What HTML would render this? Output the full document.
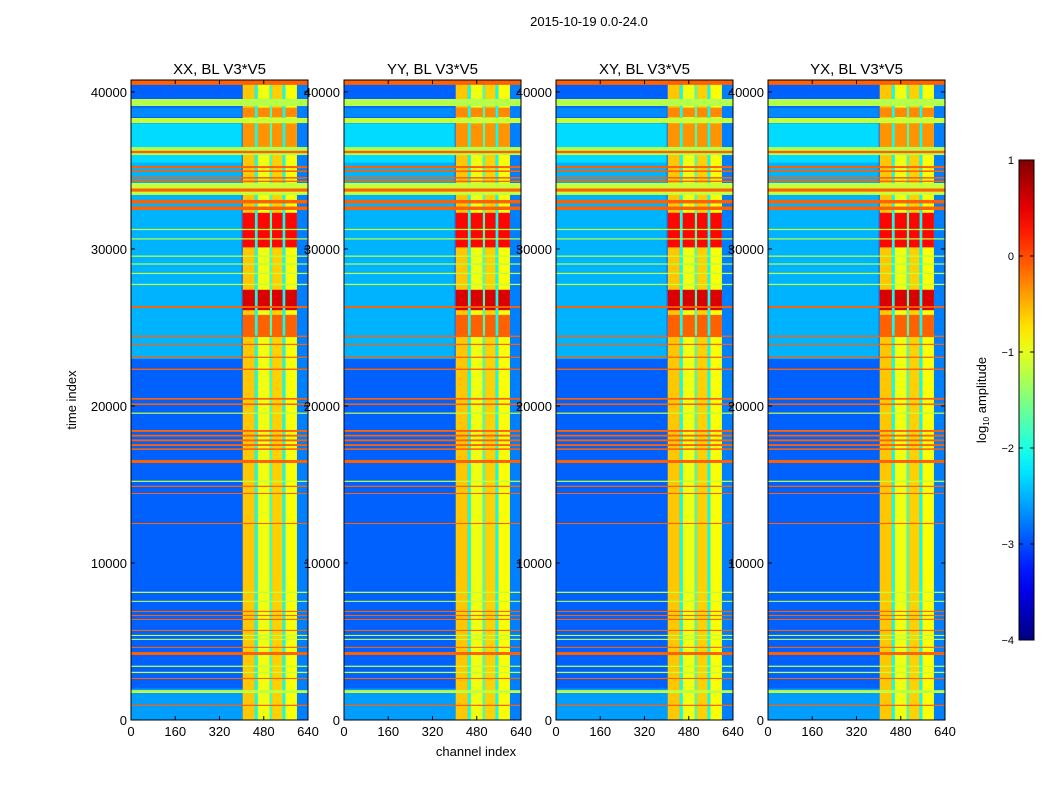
<!DOCTYPE html>
<html><head><meta charset="utf-8">
<style>
html,body{margin:0;padding:0;background:#fff;}
svg{display:block;font-family:"Liberation Sans","DejaVu Sans",sans-serif;}
</style></head>
<body>
<svg id="fig" width="1050" height="800" viewBox="0 0 1050 800" xmlns="http://www.w3.org/2000/svg">
<rect x="0" y="0" width="1050" height="800" fill="#fff"/>
<text x="589" y="26" font-size="13" text-anchor="middle">2015-10-19 0.0-24.0</text>
<text transform="translate(76,400) rotate(-90)" font-size="13" text-anchor="middle">time index</text>
<text x="476" y="756" font-size="13" text-anchor="middle">channel index</text>
<text transform="translate(986,400) rotate(-90)" font-size="13" text-anchor="middle">log<tspan font-size="8" dy="3">10</tspan><tspan dy="-3"> amplitude</tspan></text>
</svg>
<script>
// ---- data ----
const panelTitles = ["XX, BL V3*V5","YY, BL V3*V5","XY, BL V3*V5","YX, BL V3*V5"];
const xTicks = [0,160,320,480,640];
const yTicks = [0,10000,20000,30000,40000];
const cbTicks = [1,0,-1,-2,-3,-4];
const baseValue = -2.9;
// background regions [ch0, ch1, t0, t1, value]
const regions = [
  [0,400,23000,38000,-2.5],
  [0,400,35500,38000,-2.3],
  [0,400,38400,39000,-2.7],
  [0,640,0,2000,-2.6],
  [600,640,0,40760,-2.75]
];
// channel bands [ch0, ch1, value]
const channelBands = [
  [404,448,-0.6],[448,458,-2.1],[458,502,-0.95],[502,510,-1.8],
  [510,548,-0.65],[548,558,-2.1],[558,600,-0.9]
];
// hot blocks in band region [t0, t1, value]
const hotBlocks = [
  [30100,32300,0.35],[26100,27400,0.55],[24400,25800,-0.1],[36500,38000,-0.35],[38400,39000,-0.3]
];
// time bands [t0, t1, value]
const timeBands = [
  [40450,40760,-0.1],[39100,39550,-1.25],[38020,38340,-1.15],[35980,36490,-1.25],[36100,36250,-0.1],
  [34900,35000,-0.1],[35150,35280,-0.1],[34260,34350,-0.1],[34480,34580,-0.1],[33440,34200,-1.15],[33650,33850,-0.1],
  [32480,32700,-0.1],[32900,33120,-0.1],
  [31200,31280,-1.2],[30600,30680,-1.2],[29500,29580,-1.2],[29000,29080,-1.3],[28400,28480,-1.2],
  [27700,27780,-1.2],[26240,26360,-0.1],[24390,24480,-0.1],[23880,23960,-0.1],[23060,23140,-0.1],
  [22290,22380,-0.1],[20400,20510,-0.1],[20060,20160,-0.1],[19500,19580,-1.2],
  [18350,18470,-0.1],[18050,18170,-0.1],[17750,17870,-0.1],[17450,17570,-0.1],[17200,17300,-0.1],
  [16370,16560,-0.1],[15160,15240,-1.2],[14840,14920,-0.1],[14390,14460,-0.1],
  [12480,12550,-0.1],[8090,8170,-1.2],[7520,7590,-1.2],[6880,6950,-0.1],[6620,6690,-0.1],
  [6370,6440,-0.1],[5670,5740,-0.1],[5350,5420,-1.2],[5100,5170,-1.2],[4590,4660,-0.1],
  [4140,4330,-0.1],[3380,3460,-1.2],[2990,3070,-1.2],[2610,2680,-0.1],[1720,1900,-1.2],[890,970,-0.1]
];
// ---- layout ----
const panelX = [131,344,556,768];
const PW = 177, PT = 80, PB = 720;
const TMAX = 40760, CMAX = 640;
const vmin = -4, vmax = 1;
const NS = "http://www.w3.org/2000/svg";
const fig = document.getElementById('fig');
function jet(v){
  let x = (v - vmin)/(vmax - vmin); x = Math.max(0,Math.min(1,x));
  const c = t => Math.round(255*Math.max(0,Math.min(1,t)));
  return `rgb(${c(1.5-Math.abs(4*x-3))},${c(1.5-Math.abs(4*x-2))},${c(1.5-Math.abs(4*x-1))})`;
}
function el(tag, attrs, parent){
  const e = document.createElementNS(NS, tag);
  for (const k in attrs) e.setAttribute(k, attrs[k]);
  (parent||fig).appendChild(e); return e;
}
panelX.forEach((px, pi) => {
  const xs = c => px + c/CMAX*PW;
  const ys = t => PB - t/TMAX*(PB-PT);
  const g = el('g', {});
  
  
  const cell = (c0,c1,t0,t1,v,name) => {
    const r = el('rect', {x:xs(c0), y:ys(t1), width:xs(c1)-xs(c0), height:Math.max(1,ys(t0)-ys(t1)), fill:jet(v)}, g);
    
    
  };
  cell(0,CMAX,0,TMAX,baseValue,'heatmap-background');
  regions.forEach(r => cell(r[0],r[1],r[2],r[3],r[4],'heatmap-region'));
  channelBands.forEach(b => cell(b[0],b[1],0,TMAX,b[2],'channel-band'));
  hotBlocks.forEach(h => channelBands.forEach(b => { if (b[2] > -1.5) cell(b[0],b[1],h[0],h[1],h[2],'hot-block'); }));
  timeBands.forEach(b => cell(0,CMAX,b[0],b[1],b[2],'time-band'));
  const fr = el('rect', {x:px, y:PT, width:PW, height:PB-PT, fill:'none', stroke:'#000', 'stroke-width':1});
  
  
  const tt = el('text', {x:px+PW/2, y:74, 'font-size':15, 'text-anchor':'middle'});
  tt.textContent = panelTitles[pi];
  
  
  xTicks.forEach(t => {
    const x = xs(t);
    el('line', {x1:x, x2:x, y1:PB, y2:PB-4, stroke:'#000'});
    el('line', {x1:x, x2:x, y1:PT, y2:PT+4, stroke:'#000'});
    const lb = el('text', {x:x, y:PB+16, 'font-size':13, 'text-anchor':'middle'});
    lb.textContent = t;
    
    
  });
  yTicks.forEach(t => {
    const y = ys(t);
    el('line', {x1:px, x2:px+4, y1:y, y2:y, stroke:'#000'});
    el('line', {x1:px+PW, x2:px+PW-4, y1:y, y2:y, stroke:'#000'});
    const lb = el('text', {x:px-4, y:y+5, 'font-size':13, 'text-anchor':'end'});
    lb.textContent = t;
    
    
  });
});
// colorbar
const CBX = 1019, CBW = 15, CBT = 160, CBB = 640;
const defs = el('defs', {});
const grad = el('linearGradient', {id:'jetg', x1:0, y1:1, x2:0, y2:0}, defs);
for (let i = 0; i <= 20; i++) {
  el('stop', {offset:i/20, 'stop-color':jet(vmin + (vmax-vmin)*i/20)}, grad);
}
const cb = el('rect', {x:CBX, y:CBT, width:CBW, height:CBB-CBT, fill:'url(#jetg)', stroke:'#000'});


cbTicks.forEach(v => {
  const y = CBB - (v - vmin)/(vmax - vmin)*(CBB-CBT);
  el('line', {x1:CBX, x2:CBX+4, y1:y, y2:y, stroke:'#000'});
  el('line', {x1:CBX+CBW, x2:CBX+CBW-4, y1:y, y2:y, stroke:'#000'});
  const lb = el('text', {x:CBX-5, y:y+4, 'font-size':11, 'text-anchor':'end'});
  lb.textContent = v < 0 ? '\u2212' + (-v) : String(v);
  
  
});
</script>
</body></html>
